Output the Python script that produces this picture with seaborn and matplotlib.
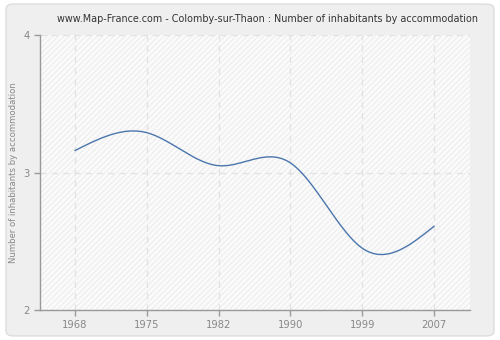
import numpy as np
import pandas as pd
import matplotlib
matplotlib.use("Agg")
import matplotlib.pyplot as plt
import seaborn as sns
from matplotlib.patches import FancyBboxPatch

years = ["1968", "1975", "1982", "1990", "1999", "2007"]
values = [3.16, 3.29, 3.05, 3.07, 2.45, 2.61]
y_ticks = [2, 3, 4]
title = "www.Map-France.com - Colomby-sur-Thaon : Number of inhabitants by accommodation"
ylabel = "Number of inhabitants by accommodation"


def natural_spline(x, y, xs):
    x = np.asarray(x, float); y = np.asarray(y, float)
    n = len(x)
    h = np.diff(x)
    A = np.zeros((n, n)); b = np.zeros(n)
    A[0, 0] = A[-1, -1] = 1
    for i in range(1, n - 1):
        A[i, i - 1] = h[i - 1]
        A[i, i] = 2 * (h[i - 1] + h[i])
        A[i, i + 1] = h[i]
        b[i] = 3 * ((y[i + 1] - y[i]) / h[i] - (y[i] - y[i - 1]) / h[i - 1])
    c = np.linalg.solve(A, b)
    out = np.empty_like(xs)
    for k, xv in enumerate(xs):
        i = min(max(np.searchsorted(x, xv) - 1, 0), n - 2)
        dx = xv - x[i]
        bi = (y[i + 1] - y[i]) / h[i] - h[i] * (2 * c[i] + c[i + 1]) / 3
        di = (c[i + 1] - c[i]) / (3 * h[i])
        out[k] = y[i] + bi * dx + c[i] * dx ** 2 + di * dx ** 3
    return out


pos = np.arange(len(years))
xs = np.linspace(0, len(years) - 1, 300)
curve = pd.DataFrame({"x": xs, "y": natural_spline(pos, values, xs)})

sns.set_theme(style="white")
plt.rcParams["font.family"] = ["DejaVu Sans"]

fig = plt.figure(figsize=(5, 3.4), dpi=100, facecolor="white")
fig.patches.append(FancyBboxPatch((0.012, 0.012), 0.976, 0.976,
                                  boxstyle="round,pad=0,rounding_size=0.015",
                                  transform=fig.transFigure, facecolor="#efefef",
                                  edgecolor="#dddddd", linewidth=1, zorder=-10))
ax = fig.add_axes([0.08, 0.088, 0.86, 0.809])
ax.set_facecolor("#fbfbfb")
ax.add_patch(plt.Rectangle((0, 0), 1, 1, transform=ax.transAxes, facecolor="none",
                           edgecolor="#efefef", hatch="//////", linewidth=0, zorder=0))

sns.lineplot(data=curve, x="x", y="y", ax=ax, color="#4a76ad", linewidth=1.0, zorder=3)

ax.set_xlim(-0.487, 5.5)
ax.set_ylim(2, 4)
ax.set_xticks(pos)
ax.set_xticklabels(years)
ax.set_yticks(y_ticks)
ax.set_yticklabels([str(t) for t in y_ticks])
ax.grid(True, linestyle=(0, (5, 4)), color="#e2e2e2", linewidth=0.9)
ax.set_axisbelow(True)
for s in ["top", "right"]:
    ax.spines[s].set_visible(False)
for s in ["left", "bottom"]:
    ax.spines[s].set_color("#999999")
    ax.spines[s].set_linewidth(1)
ax.tick_params(axis="both", colors="#999999", labelcolor="#888888", labelsize=7.2,
               length=4, width=1, direction="out", left=True, bottom=True)
ax.set_xlabel("")
ax.set_ylabel(ylabel, color="#888888", fontsize=6.1)
ax.yaxis.set_label_coords(-0.051, 0.5)
fig.text(0.535, 0.945, title, ha="center", va="center", fontsize=6.9, color="#333333")

fig.savefig("out.png", dpi=100, facecolor=fig.get_facecolor())
